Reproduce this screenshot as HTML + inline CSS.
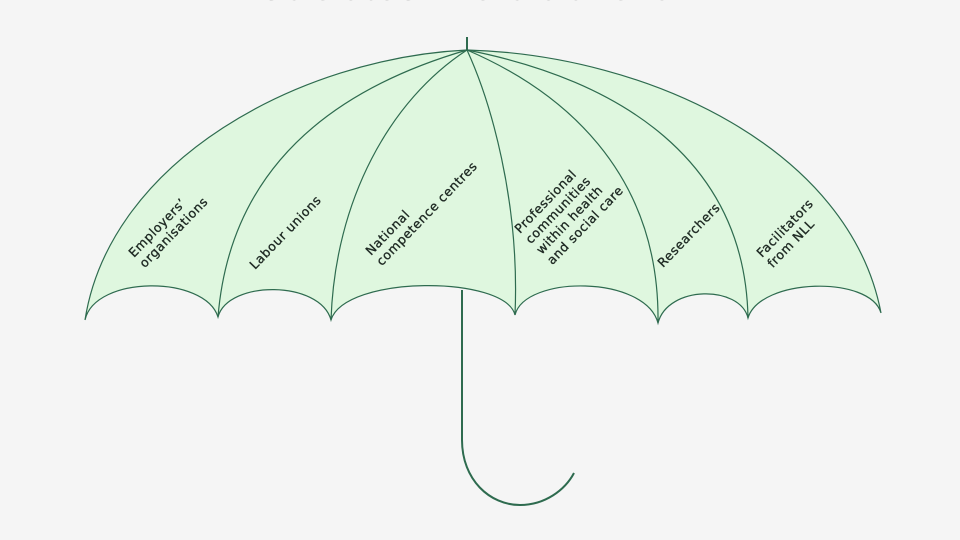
<!DOCTYPE html>
<html><head><meta charset="utf-8"><style>
html,body{margin:0;padding:0;background:#f5f5f5;width:960px;height:540px;overflow:hidden}
svg{display:block}
text{font-family:"DejaVu Sans","Liberation Sans",sans-serif;font-size:12.5px;fill:#1f2a24;stroke:#1f2a24;stroke-width:0.35;letter-spacing:0.6px}
</style></head><body>
<svg width="960" height="540" viewBox="0 0 960 540">
<text x="265" y="0" style="font-size:22px;fill:#9a9a9a;stroke:none">Stakeholders in the national network</text>
<path d="M85,320 C110,160 300,58 467,50 C650,55 850,150 881,313 C870,275 760,278 748,318 C740,285 668,285 658,323 C645,275 525,275 515,315 C505,275 345,275 331,320 C320,280 228,280 218,317 C205,275 95,275 85,320 Z" fill="#dff7df" stroke="#2e6b4f" stroke-width="1.2"/>
<g fill="none" stroke="#2e6b4f" stroke-width="1.2">
<path d="M467,50 C330,90 230,170 218,317"/>
<path d="M467,50 C390,100 335,200 331,320"/>
<path d="M467,50 C490,100 520,200 515,315"/>
<path d="M467,50 C560,90 660,170 658,323"/>
<path d="M467,50 C620,80 745,160 748,318"/>
<path d="M467,37 L467,50" stroke-width="2"/>
<path d="M462,290 L462,440 C462,480 490,505 520,505 C545,505 565,490 574,473" stroke-width="2"/>
</g>
<g transform="translate(134,258) rotate(-46)"><text>Employers’</text><text x="0" y="15">organisations</text></g>
<g transform="translate(255,270) rotate(-46)"><text>Labour unions</text></g>
<g transform="translate(371,256) rotate(-46)"><text>National</text><text y="15">competence centres</text></g>
<g transform="translate(520,234) rotate(-46)"><text>Professional</text><text y="15">communities</text><text y="30">within health</text><text y="45">and social care</text></g>
<g transform="translate(663,268) rotate(-46)"><text>Researchers</text></g>
<g transform="translate(762,258) rotate(-46)"><text>Facilitators</text><text y="15">from NLL</text></g>
</svg>
</body></html>
